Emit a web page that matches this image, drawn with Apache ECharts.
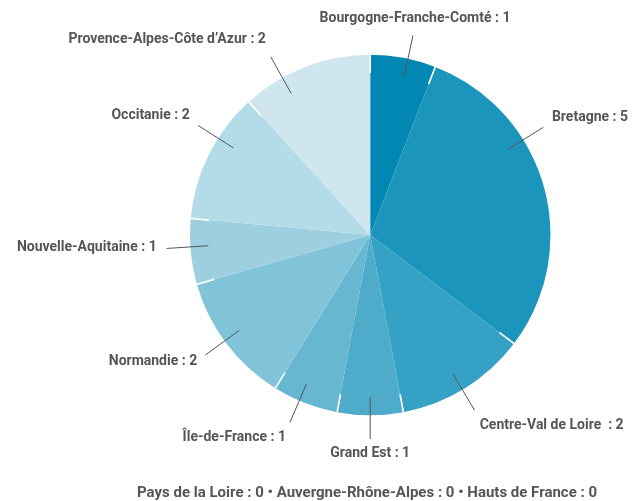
<!DOCTYPE html>
<html>
<head>
<meta charset="utf-8">
<script src="https://cdn.jsdelivr.net/npm/echarts@6/dist/echarts.min.js"></script>
<style>
  html, body { margin: 0; padding: 0; background: #fff; }
  #chart { width: 635px; height: 501px; }
</style>
</head>
<body>
<div id="chart"></div>
<script>
// régions avec au moins une valeur
var regions = ['Bourgogne-Franche-Comté', 'Bretagne', 'Centre-Val de Loire ', 'Grand Est', 'Île-de-France',
  'Normandie', 'Nouvelle-Aquitaine', 'Occitanie', "Provence-Alpes-Côte d’Azur"]
var counts = [1, 5, 2, 1, 1, 2, 1, 2, 2]
var sliceColors = ['#0287b3', '#1b95bb', '#35a1c4', '#4eabca', '#67b7d1', '#81c3d9', '#9dcfe0', '#b4dbe8', '#cfe6ee']

// régions à zéro (texte en bas)
var zeroRegions = ['Pays de la Loire', 'Auvergne-Rhône-Alpes', 'Hauts de France']
var zeroCounts = [0, 0, 0]

// décalage angulaire des étiquettes (degrés, sens horaire)
var labelAngleShift = [1.5, -16, 1, 0, 2, 1, 1.5, 6, -8]

var pieCenter = ['58.3%', '46.9%']
var lineStartR = 162   // les traits partent de l'intérieur des parts
var lineLen = 42

var pieData = regions.map(function (name, i) {
  return { name: name, value: counts[i], itemStyle: { color: sliceColors[i] } }
})
var zeroText = zeroRegions.map(function (name, i) {
  return name + ' : ' + zeroCounts[i]
}).join(' \u2022 ')

var chart = echarts.init(document.getElementById('chart'))

function placeLabel (p) {
  var pts = p.labelLinePoints
  if (!pts) return {}
  var dx = pts[1][0] - pts[0][0], dy = pts[1][1] - pts[0][1]
  var len = Math.sqrt(dx * dx + dy * dy) || 1
  dx /= len; dy /= len
  var cx = pts[0][0] - dx * lineStartR, cy = pts[0][1] - dy * lineStartR
  var ang = Math.atan2(dy, dx) + (labelAngleShift[p.dataIndex] || 0) * Math.PI / 180
  dx = Math.cos(ang); dy = Math.sin(ang)
  var a = [cx + dx * lineStartR, cy + dy * lineStartR]
  var end = [cx + dx * (lineStartR + lineLen), cy + dy * (lineStartR + lineLen)]
  var align = Math.abs(dx) < 0.3 ? 'center' : (dx > 0 ? 'left' : 'right')
  var valign = 'middle'
  var y = end[1] + dy * 14 - 2
  if (dy < -0.75) { valign = 'bottom'; y = end[1] - 10 }
  if (dy > 0.75) { valign = 'top'; y = end[1] + 8 }
  return {
    x: end[0] + dx * 10,
    y: y,
    align: align,
    verticalAlign: valign,
    labelLinePoints: [a, end, end]
  }
}

chart.setOption({
  animation: false,
  textStyle: { fontFamily: 'Roboto' },
  graphic: [{
    type: 'text',
    left: 137,
    top: 486,
    style: { text: zeroText, fill: '#555', font: 'bold 15px Roboto' }
  }],
  series: [
    {
      // camembert visible
      type: 'pie',
      z: 2,
      center: pieCenter,
      radius: 181,
      startAngle: 90,
      silent: true,
      label: { show: false },
      labelLine: { show: false },
      itemStyle: { borderColor: '#fff', borderWidth: 1.5 },
      data: pieData
    },
    {
      // série transparente pour les étiquettes
      type: 'pie',
      z: 5,
      center: pieCenter,
      radius: lineStartR,
      startAngle: 90,
      silent: true,
      avoidLabelOverlap: false,
      itemStyle: { color: 'rgba(0,0,0,0)' },
      label: {
        show: true,
        position: 'outside',
        formatter: '{b} : {c}',
        color: '#555',
        fontWeight: 'bold',
        fontSize: 14,
        fontFamily: 'Roboto'
      },
      labelLine: {
        show: true,
        length: lineLen,
        length2: 0,
        smooth: false,
        lineStyle: { color: '#555', width: 1 }
      },
      labelLayout: placeLabel,
      data: pieData
    }
  ]
})
</script>
</body>
</html>
